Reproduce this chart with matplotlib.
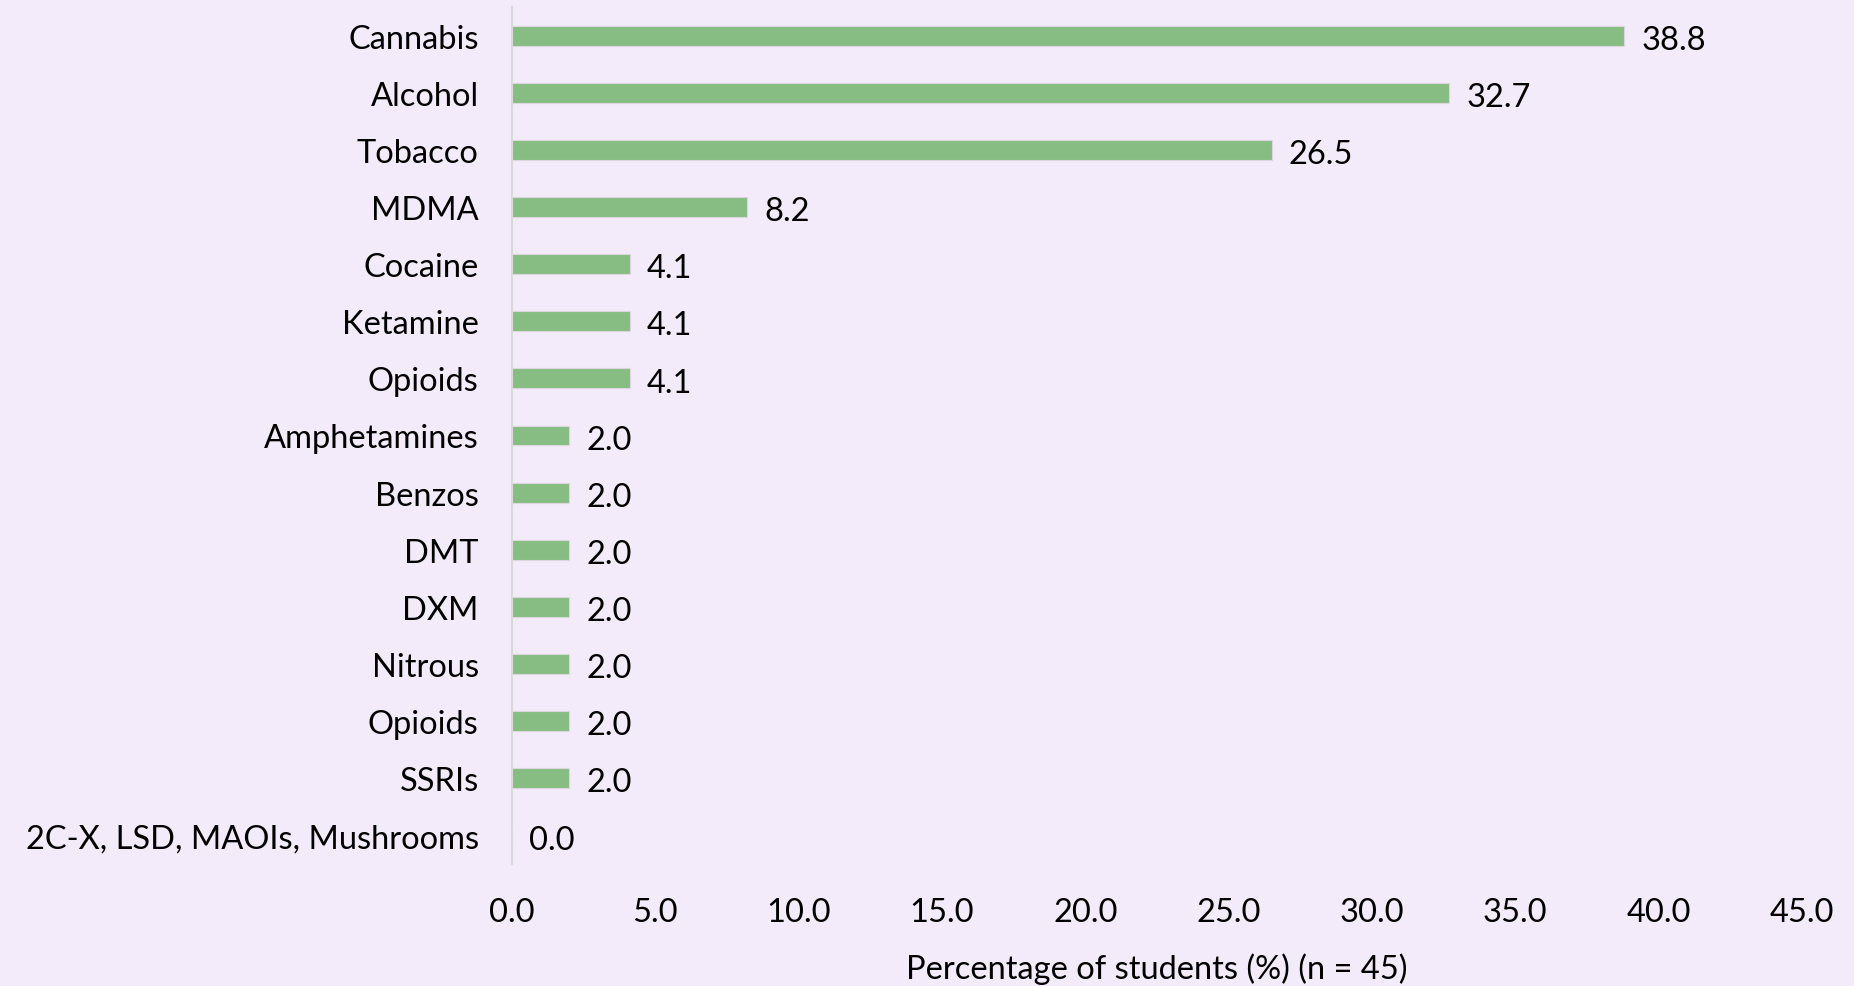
import matplotlib.pyplot as plt
import matplotlib.transforms as mtransforms
import numpy as np

categories = ['Cannabis', 'Alcohol', 'Tobacco', 'MDMA', 'Cocaine', 'Ketamine', 'Opioids',
              'Amphetamines', 'Benzos', 'DMT', 'DXM', 'Nitrous', 'Opioids', 'SSRIs',
              '2C-X, LSD, MAOIs, Mushrooms']
values = [38.8, 32.7, 26.5, 8.2, 4.1, 4.1, 4.1, 2.0, 2.0, 2.0, 2.0, 2.0, 2.0, 2.0, 0.0]
xticks = [0, 5, 10, 15, 20, 25, 30, 35, 40, 45]

bg = '#F3EBF9'
plt.rcParams['font.family'] = ['Lato', 'DejaVu Sans']
fs = 23.5

fig = plt.figure(figsize=(18.54, 9.87), dpi=100, facecolor=bg)
ax = fig.add_axes([512/1854, 1 - 865/987, (1802-512)/1854, (865-8)/987])
ax.set_facecolor(bg)

y = np.arange(len(categories))
ax.barh(y, values, height=0.35, color='#87BC82', edgecolor='#dcd6df', linewidth=0.8)
shift = mtransforms.offset_copy(ax.transData, fig=fig, x=0, y=-3, units='points')
for yi, v in zip(y, values):
    ax.text(v + 0.6, yi, f'{v:.1f}', va='center', ha='left', fontsize=fs, color='black',
            transform=shift)

ax.set_ylim(len(categories) - 0.5, -0.5)
ax.set_xlim(0, 45)
ax.set_yticks(y)
ax.set_yticklabels(categories, fontsize=fs)
ax.set_xticks(xticks)
ax.set_xticklabels([f'{t:.1f}' for t in xticks], fontsize=fs)
ax.tick_params(length=0)
ax.tick_params(axis='y', pad=24)
ax.tick_params(axis='x', pad=24)
for s in ['top', 'right', 'bottom']:
    ax.spines[s].set_visible(False)
ax.spines['left'].set_color('#d9d9d9')
ax.spines['left'].set_linewidth(1.5)
ax.set_xlabel('Percentage of students (%) (n = 45)', fontsize=fs, labelpad=18)

fig.savefig('out.png', dpi=100, facecolor=bg)
